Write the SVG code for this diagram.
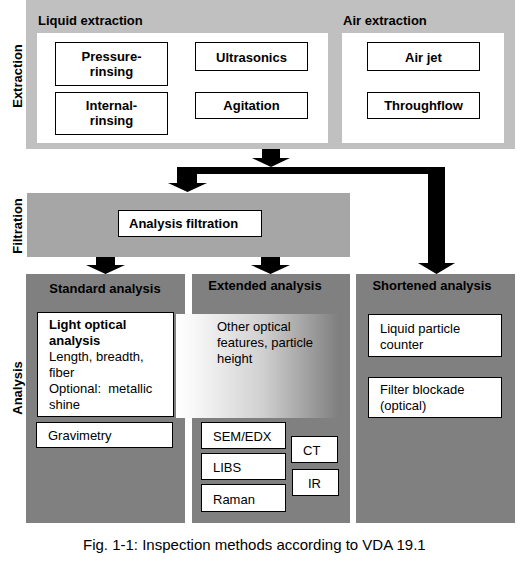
<svg xmlns="http://www.w3.org/2000/svg" width="522" height="562" viewBox="0 0 522 562">
<style>
text{font-family:"Liberation Sans",Arial,sans-serif;font-size:13px;fill:#000}
.b{font-weight:bold}
.c{text-anchor:middle}
.box{fill:#fff;stroke:#000;stroke-width:1}
.arr{fill:#000}
</style>
<defs>
<linearGradient id="g" x1="176" y1="0" x2="350" y2="0" gradientUnits="userSpaceOnUse">
<stop offset="0" stop-color="#fff"/>
<stop offset="0.1" stop-color="#f8f8f8"/>
<stop offset="0.5" stop-color="#d0d0d0"/>
<stop offset="0.93" stop-color="#808080"/>
<stop offset="1" stop-color="#808080"/>
</linearGradient>
</defs>
<rect width="522" height="562" fill="#fff"/>

<g id="extraction">
<rect x="26" y="0" width="489" height="149" fill="#c0c0c0"/>
<text class="b" transform="translate(22,76) rotate(-90)" text-anchor="middle">Extraction</text>
<g id="liquid-extraction">
<text class="b" x="38" y="25">Liquid extraction</text>
<rect x="37" y="33" width="291" height="110" fill="#fff"/>
</g>
<g id="air-extraction">
<text class="b" x="343" y="25">Air extraction</text>
<rect x="342" y="33" width="162" height="110" fill="#fff"/>
</g>
<g id="pressure-rinsing"><rect class="box" x="55.5" y="42.5" width="112" height="43"/><text class="b c" x="111.5" y="61">Pressure-</text><text class="b c" x="111.5" y="76">rinsing</text></g>
<g id="ultrasonics"><rect class="box" x="195.5" y="42.5" width="112" height="28"/><text class="b c" x="251.5" y="62">Ultrasonics</text></g>
<g id="internal-rinsing"><rect class="box" x="55.5" y="92.5" width="112" height="42"/><text class="b c" x="111.5" y="110">Internal-</text><text class="b c" x="111.5" y="125">rinsing</text></g>
<g id="agitation"><rect class="box" x="195.5" y="92.5" width="112" height="26"/><text class="b c" x="251.5" y="110">Agitation</text></g>
<g id="air-jet"><rect class="box" x="367.5" y="42.5" width="112" height="28"/><text class="b c" x="423.5" y="62">Air jet</text></g>
<g id="throughflow"><rect class="box" x="367.5" y="92.5" width="112" height="26"/><text class="b c" x="423.5" y="110">Throughflow</text></g>
</g>

<g id="filtration">
<rect x="27" y="193" width="323" height="64" fill="#a6a6a6"/>
<text class="b" transform="translate(22,226) rotate(-90)" text-anchor="middle">Filtration</text>
<g id="analysis-filtration"><rect class="box" x="118.5" y="210.5" width="143" height="26"/><text class="b" x="129" y="228">Analysis filtration</text></g>
</g>

<g id="analysis">
<text class="b" transform="translate(22,388) rotate(-90)" text-anchor="middle">Analysis</text>
<g id="standard-analysis">
<rect x="26" y="274" width="159" height="249" fill="#808080"/>
<text class="b c" x="105" y="293">Standard analysis</text>
</g>
<g id="extended-analysis">
<rect x="192" y="274" width="158" height="249" fill="#808080"/>
<text class="b c" x="265" y="290">Extended analysis</text>
</g>
<g id="shortened-analysis">
<rect x="356" y="274" width="159" height="249" fill="#808080"/>
<text class="b c" x="432" y="290">Shortened analysis</text>
</g>
<g id="other-optical">
<rect x="176" y="314" width="174" height="104" fill="url(#g)"/>
<text x="217" y="331">Other optical</text>
<text x="217" y="347">features, particle</text>
<text x="217" y="363">height</text>
</g>
<g id="light-optical">
<rect class="box" x="37.5" y="312.5" width="136" height="104"/>
<text class="b" x="49" y="329">Light optical</text>
<text class="b" x="49" y="345">analysis</text>
<text x="49" y="361">Length, breadth,</text>
<text x="49" y="377">fiber</text>
<text x="49" y="393">Optional:&#160; metallic</text>
<text x="49" y="409">shine</text>
</g>
<g id="gravimetry"><rect class="box" x="36.5" y="422.5" width="136" height="25"/><text x="48" y="440">Gravimetry</text></g>
<g id="sem-edx"><rect class="box" x="201.5" y="422.5" width="84" height="26"/><text x="213" y="441">SEM/EDX</text></g>
<g id="libs"><rect class="box" x="201.5" y="453.5" width="84" height="26"/><text x="213" y="472">LIBS</text></g>
<g id="raman"><rect class="box" x="201.5" y="484.5" width="84" height="27"/><text x="213" y="504">Raman</text></g>
<g id="ct"><rect class="box" x="291.5" y="436.5" width="46" height="26"/><text x="303" y="455">CT</text></g>
<g id="ir"><rect class="box" x="292.5" y="469.5" width="46" height="26"/><text x="308" y="488">IR</text></g>
<g id="liquid-particle-counter"><rect class="box" x="368.5" y="314.5" width="133" height="42"/><text x="380" y="333">Liquid particle</text><text x="380" y="349">counter</text></g>
<g id="filter-blockade"><rect class="box" x="368.5" y="377.5" width="133" height="40"/><text x="380" y="394">Filter blockade</text><text x="380" y="410">(optical)</text></g>
</g>

<g id="connectors">
<polygon class="arr" points="262,149 280,149 280,158 290,158 271,167 252,158 262,158"/>
<polygon class="arr" points="177,167 445,167 445,263 455,263 436.5,274 418,263 428,263 428,174 197,174 197,183 207,183 187.5,192 168,183 177,183"/>
<polygon class="arr" points="96,257 115,257 115,265 125,265 105.5,274 86,265 96,265"/>
<polygon class="arr" points="261,257 280,257 280,265 290,265 270.5,274 251,265 261,265"/>
</g>

<text x="83" y="550" style="font-size:15px">Fig. 1-1: Inspection methods according to VDA 19.1</text>
</svg>
